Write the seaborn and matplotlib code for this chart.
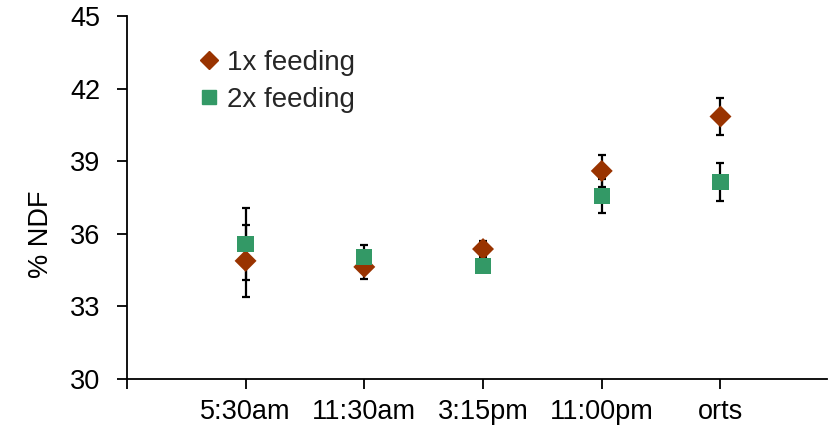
import numpy as np
import pandas as pd
import matplotlib
matplotlib.use("Agg")
import matplotlib.pyplot as plt
import seaborn as sns
from matplotlib.lines import Line2D

# values
times = ["5:30am", "11:30am", "3:15pm", "11:00pm", "orts"]
ndf_1x = [34.88, 34.63, 35.37, 38.60, 40.85]
err_1x = [1.49, 0.50, 0.33, 0.66, 0.76]
ndf_2x = [35.57, 35.04, 34.67, 37.56, 38.14]
err_2x = [1.49, 0.50, 0.20, 0.70, 0.78]
series = ["1x feeding", "2x feeding"]

col_1x = "#993300"
col_2x = "#339966"

sns.set_theme(style="white")
plt.rcParams["font.family"] = ["Liberation Sans", "DejaVu Sans"]

pos = np.arange(1, len(times) + 1)
df = pd.DataFrame({
    "pos": np.concatenate([pos, pos]),
    "ndf": ndf_1x + ndf_2x,
    "err": err_1x + err_2x,
    "feeding": [series[0]] * len(times) + [series[1]] * len(times),
})

fig = plt.figure(figsize=(8.29, 4.37), dpi=100)
ax = fig.add_axes([0.153, 0.133, 0.845, 0.830])

# error bars first so markers sit on top
for name in series:
    sub = df[df["feeding"] == name]
    ax.errorbar(sub["pos"], sub["ndf"], yerr=sub["err"], fmt="none",
                ecolor="black", elinewidth=1.6, capsize=3, capthick=1.6, zorder=2)

sns.scatterplot(data=df, x="pos", y="ndf", hue="feeding", style="feeding",
                palette=[col_1x, col_2x], markers=["D", "s"],
                s=120, linewidth=0, ax=ax, zorder=3, legend=False)
ax.collections[-1].set_sizes([125 if f == series[0] else 135 for f in df["feeding"]])

ax.set_xlim(0, 5.9)
ax.set_ylim(30, 45)
ax.set_yticks([30, 33, 36, 39, 42, 45])
ax.set_xticks(np.arange(0, len(times) + 1))
ax.set_xticklabels([""] + times)
ax.tick_params(axis="both", direction="out", length=7.5, width=1.3, color="black",
               labelsize=19.5, labelcolor="black", bottom=True, left=True)
ax.tick_params(axis="x", pad=7)
ax.tick_params(axis="y", pad=11.5)

ax.set_xlabel("")
ax.set_ylabel("% NDF", fontsize=19.5, color="black")
ax.yaxis.set_label_coords(-0.104, 0.40)

for side in ["top", "right"]:
    ax.spines[side].set_visible(False)
for side in ["left", "bottom"]:
    ax.spines[side].set_color("black")
    ax.spines[side].set_linewidth(1.3)

handles = [
    Line2D([], [], marker="D", color=col_1x, linestyle="none", markersize=9),
    Line2D([], [], marker="s", color=col_2x, linestyle="none", markersize=10.5),
]
fig.legend(handles, series, loc="upper left", bbox_to_anchor=(0.235, 0.886),
           frameon=False, fontsize=20, handletextpad=0.15, labelspacing=0.41,
           handlelength=1.0, borderaxespad=0, borderpad=0)

fig.savefig("out.png", dpi=100)
